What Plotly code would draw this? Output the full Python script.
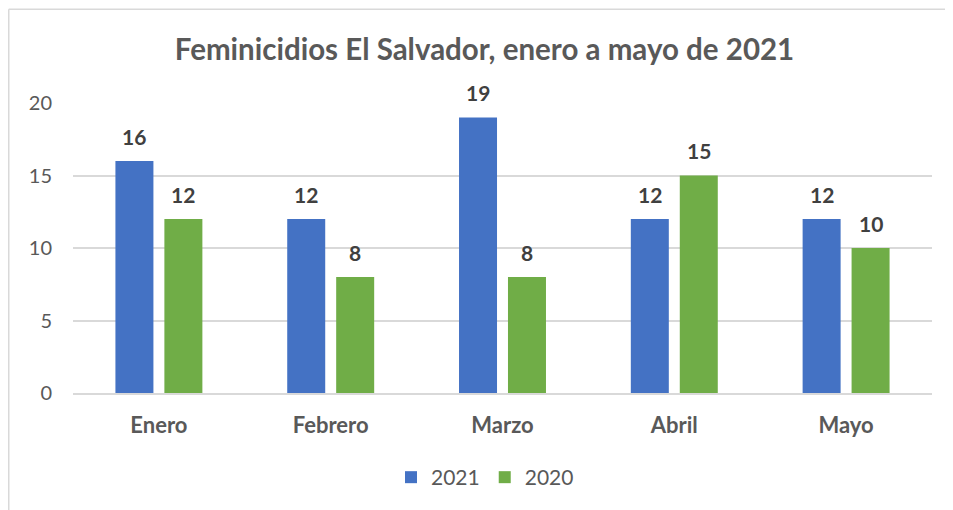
import plotly.graph_objects as go

categories = ["Enero", "Febrero", "Marzo", "Abril", "Mayo"]
values_2021 = [16, 12, 19, 12, 12]
values_2020 = [12, 8, 8, 15, 10]
series_names = ["2021", "2020"]
colors = ["#4472C4", "#70AD47"]
y_ticks = [0, 5, 10, 15, 20]

FONT = "Lato"
GREY = "#595959"

W, H = 945, 502
L, R, T, B = 65, 21, 94.7, 116.7
PW, PH = W - L - R, H - T - B

fig = go.Figure()
for name, vals, col in zip(series_names, [values_2021, values_2020], colors):
    fig.add_trace(go.Bar(
        x=categories, y=vals, name=name,
        marker=dict(color=col, line=dict(width=0)),
    ))

annotations = []
for vals, shift in zip([values_2021, values_2020], [-24.5, 24.5]):
    for c, v in zip(categories, vals):
        annotations.append(dict(
            x=c, y=v, xref="x", yref="y", text=str(v), showarrow=False,
            xshift=shift, yshift=25, yanchor="middle",
            font=dict(family=FONT, size=21, color="#404040", weight="bold"),
        ))

def px_x(x):
    return (x - L) / PW

def px_y(y):
    return (H - B - y) / PH

fig.update_layout(
    width=W, height=H,
    paper_bgcolor="white", plot_bgcolor="white",
    margin=dict(l=L, r=R, t=T, b=B),
    title=dict(
        text="<b>Feminicidios El Salvador, enero a mayo de 2021</b>",
        x=476.5 / W, xanchor="center", y=1 - 42 / H, yanchor="middle",
        font=dict(family=FONT, size=29.5, color=GREY),
    ),
    bargap=0.43, bargroupgap=0.224,
    showlegend=True,
    legend=dict(
        orientation="h", x=px_x(477), xanchor="center", y=px_y(470),
        yanchor="middle", font=dict(family=FONT, size=21, color=GREY),
        itemwidth=30, traceorder="normal",
    ),
    annotations=annotations,
    shapes=[
        dict(type="line", xref="paper", yref="paper",
             x0=px_x(0.75), x1=px_x(0.75), y0=px_y(H + 5), y1=px_y(0.75),
             line=dict(color="#D9D9D9", width=1.5)),
        dict(type="line", xref="paper", yref="paper",
             x0=px_x(0.75), x1=px_x(W + 5), y0=px_y(0.75), y1=px_y(0.75),
             line=dict(color="#D9D9D9", width=1.5)),
    ],
)
fig.update_xaxes(
    showgrid=False, showline=True, linecolor="#D9D9D9", linewidth=1.5,
    tickfont=dict(family=FONT, size=22, color=GREY, weight="bold"),
    ticks="", ticklabelstandoff=12,
)
fig.update_yaxes(
    range=[0, 20], tickvals=y_ticks, showgrid=True, gridcolor="#D9D9D9",
    gridwidth=1.5, zeroline=False, showline=False,
    tickfont=dict(family=FONT, size=20, color=GREY), ticks="",
    ticklabelstandoff=20,
)

fig.write_html("out.html")
